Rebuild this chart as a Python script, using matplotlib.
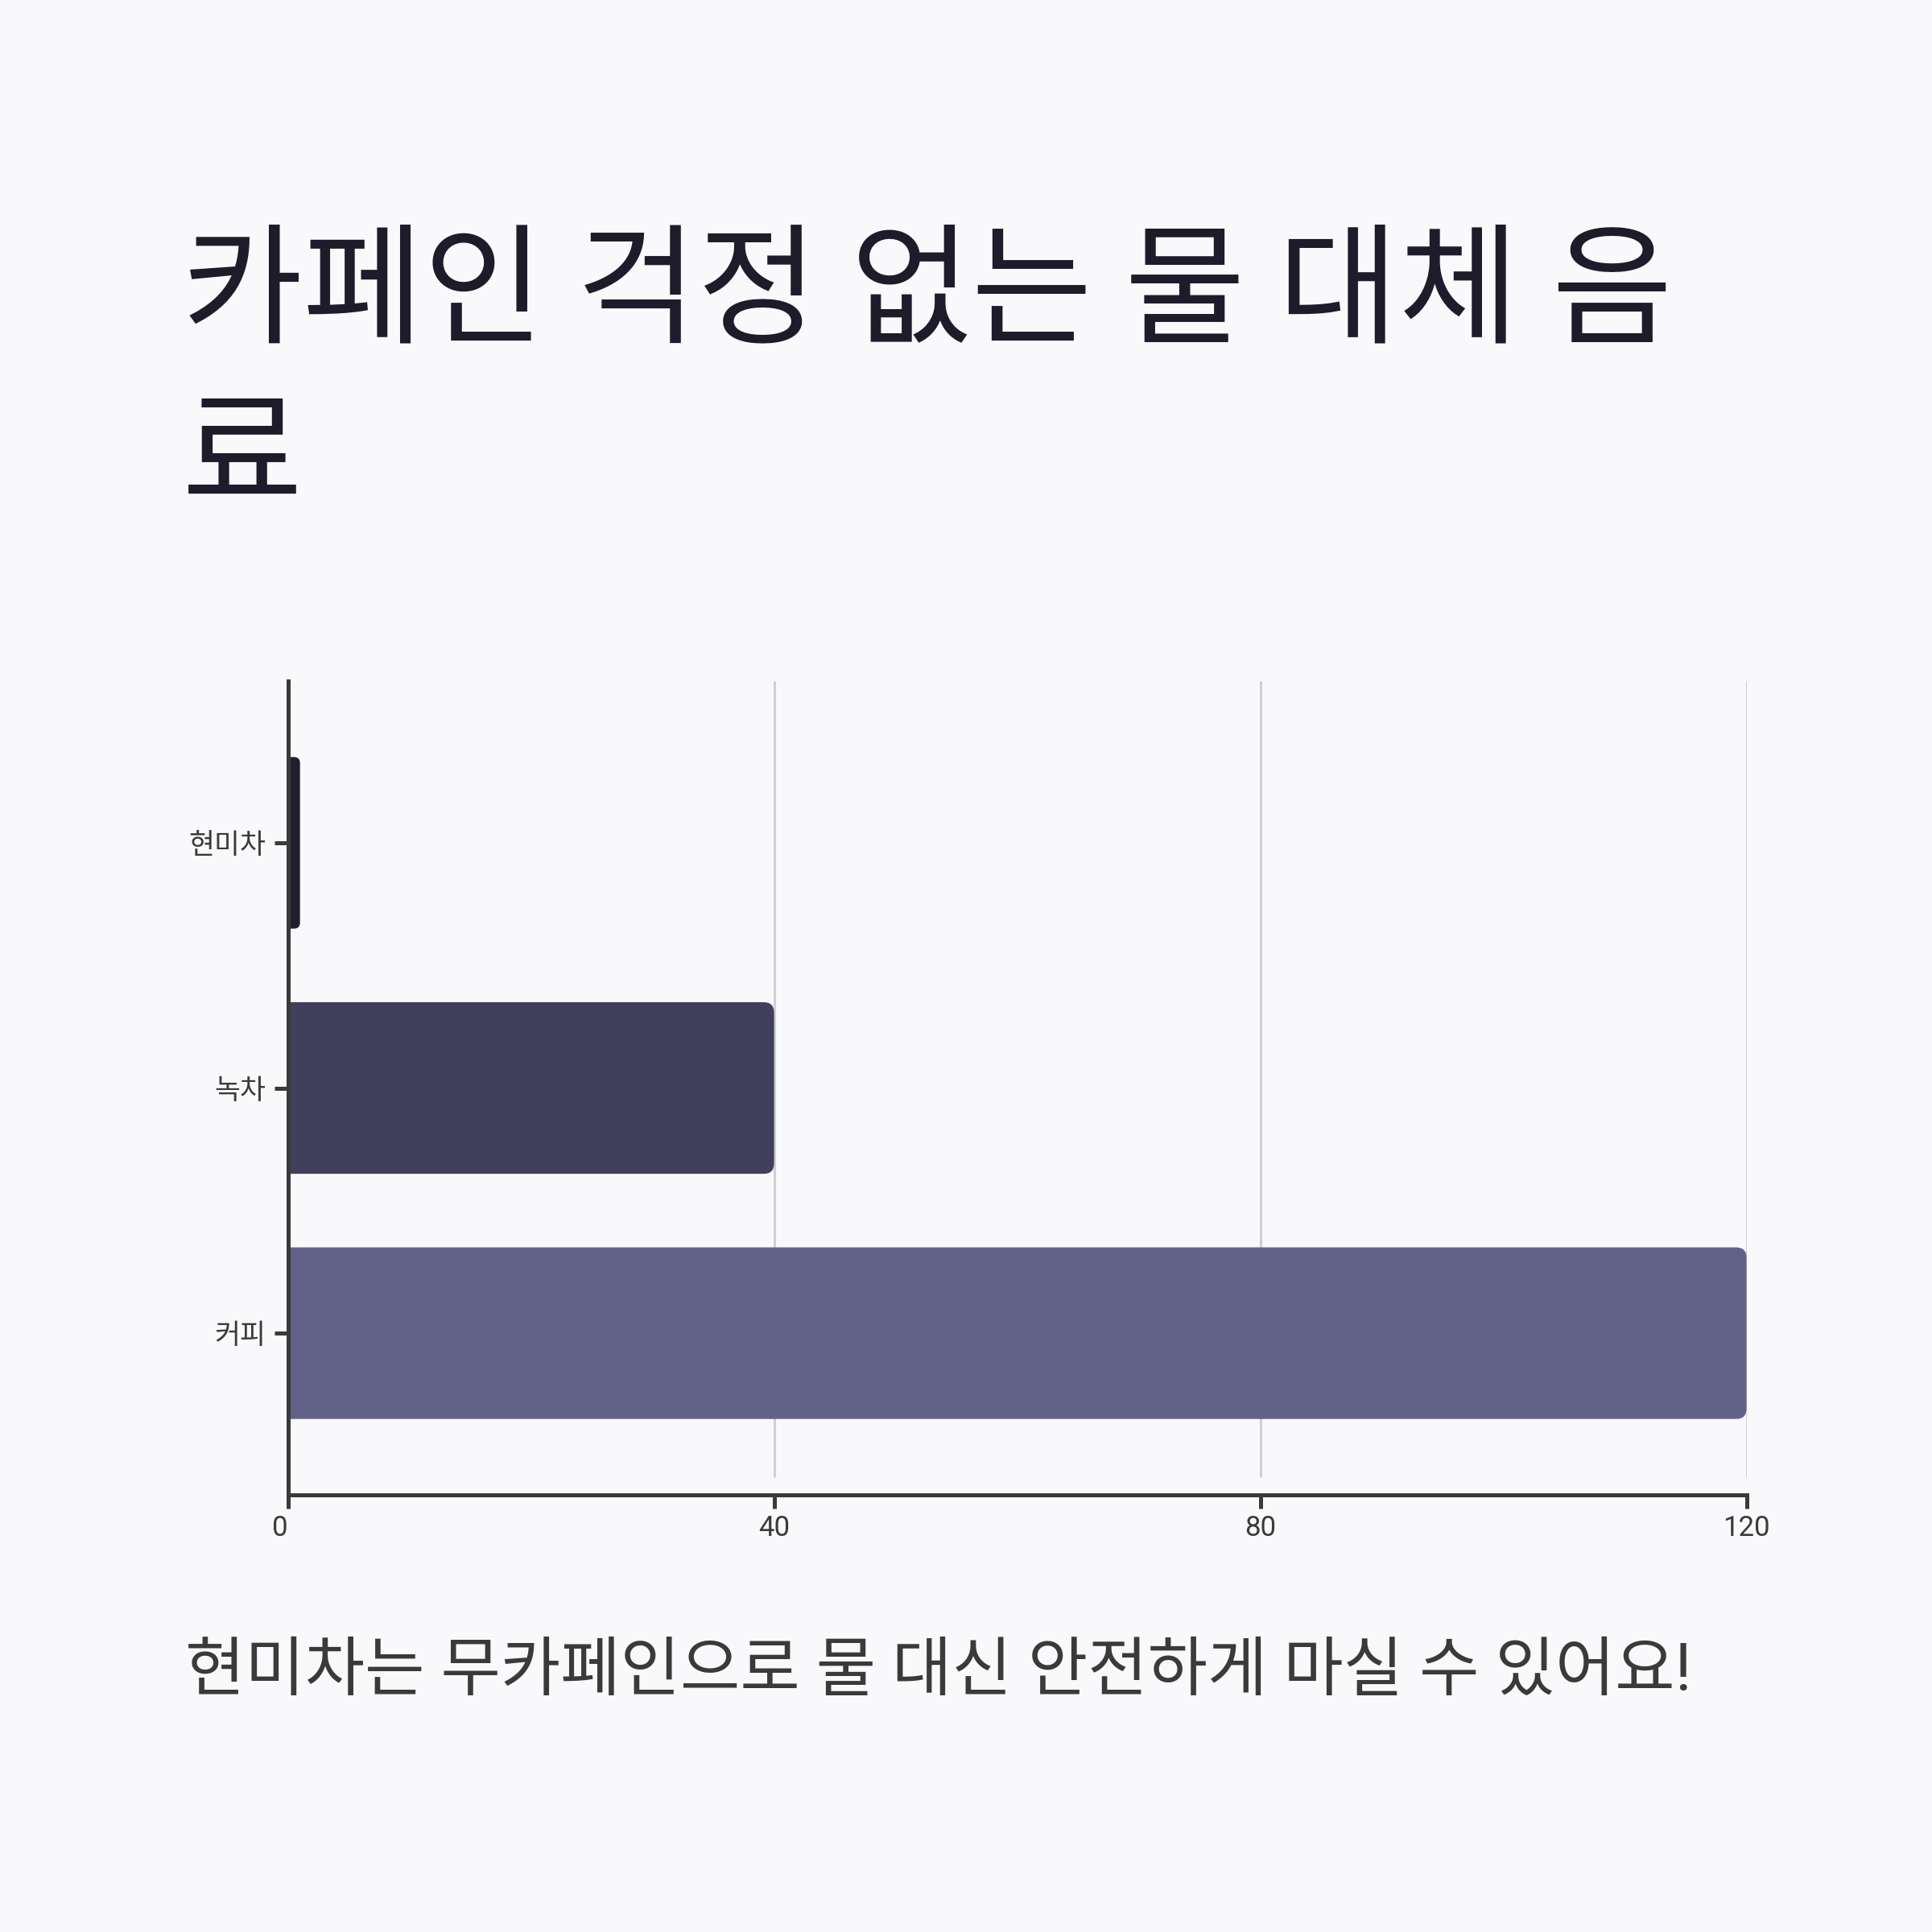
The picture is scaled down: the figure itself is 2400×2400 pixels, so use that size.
import numpy as np
import matplotlib
matplotlib.use('Agg')
import matplotlib.pyplot as plt
from matplotlib.patches import FancyBboxPatch

plt.rcParams['font.family'] = ['Roboto', 'Noto Sans CJK KR', 'DejaVu Sans']

# data
drinks = ['커피', '녹차', '현미차']
caffeine = [120, 40, 1]
bar_colors = ['#626289', '#40405c', '#1f1f2e']
x_ticks = [0, 40, 80, 120]

title = '카페인 걱정 없는 물 대체 음\n료'
caption = '현미차는 무카페인으로 물 대신 안전하게 마실 수 있어요!'

bg = '#f9f9fb'
ink = '#3a3a3a'

fig = plt.figure(figsize=(12, 12), dpi=200, facecolor=bg)
ax = fig.add_axes([0.149, 0.2262, 0.755, 0.4213])
ax.set_facecolor(bg)

ypos = np.arange(len(drinks))
bars = ax.barh(ypos, caffeine, height=0.7, color=bar_colors)
ax.set_xlim(0, 120)
ax.set_ylim(-0.66, 2.66)

# swap plain bars for ones with rounded right corners
fig.canvas.draw()
bb = ax.get_window_extent()
px_x = bb.width / 120.0
px_y = bb.height / 3.32
r_px = 13
for b, c in zip(bars, bar_colors):
    x0, y0 = b.get_x(), b.get_y()
    w, h = b.get_width(), b.get_height()
    r = min(r_px / px_x, w / 2.0)
    p = FancyBboxPatch((x0 - r, y0), w + r, h,
                       boxstyle='round,pad=0,rounding_size=%f' % r,
                       mutation_aspect=px_x / px_y,
                       facecolor=c, edgecolor='none', zorder=2)
    ax.add_patch(p)
    b.set_visible(False)

# grid lines stop short of the x axis
ax.vlines(x_ticks[1:], 0.022, 1, transform=ax.get_xaxis_transform(),
          colors='#d0d0d4', linewidth=1.1, zorder=1)

for s in ['top', 'right']:
    ax.spines[s].set_visible(False)
for s in ['left', 'bottom']:
    ax.spines[s].set_color(ink)
    ax.spines[s].set_linewidth(1.8)
    ax.spines[s].set_zorder(3)

ax.set_yticks(ypos)
ax.set_yticklabels(drinks)
ax.set_xticks(x_ticks)
ax.set_xticklabels([str(t) for t in x_ticks])
ax.tick_params(axis='both', colors=ink, labelcolor=ink, length=6, width=1.8)
ax.tick_params(axis='y', labelsize=12.5, pad=4)
ax.tick_params(axis='x', labelsize=12.5, pad=3)
ax.get_xticklabels()[0].set_ha('right')

fig.text(0.094, 0.879, title, fontsize=58.7, color='#1c1c2a', ha='left', va='top',
         linespacing=1.4)
fig.text(0.096, 0.134, caption, fontsize=29.1, color=ink, ha='left', va='center')

fig.savefig('out.png', dpi=200, facecolor=bg)
